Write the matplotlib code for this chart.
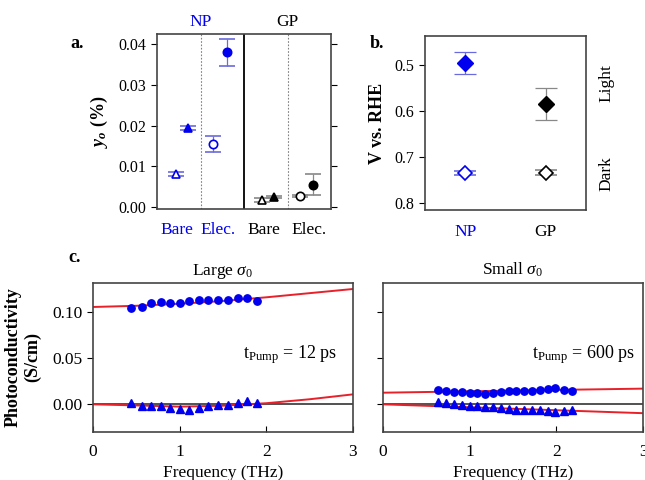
import matplotlib
matplotlib.use('Agg')
from matplotlib import pyplot as plt

plt.rcParams['font.family'] = 'Liberation Serif'
plt.rcParams['mathtext.fontset'] = 'custom'
plt.rcParams['mathtext.rm'] = 'Liberation Serif'
plt.rcParams['mathtext.it'] = 'Liberation Serif:italic'
plt.rcParams['mathtext.bf'] = 'Liberation Serif:bold'
plt.rcParams['mathtext.bfit'] = 'Liberation Serif:bold:italic'
plt.rcParams['font.size'] = 11.5

BLUE = '#0000ee'
BLUE_ERR = '#6a6ae0'
GRAY_ERR = '#888888'
SPINE = '#444444'

# panel a: y_o (%) for NP / GP, bare / electrolyte, open / filled markers
a_x = [0.44, 0.71, 1.29, 1.61, 2.41, 2.69, 3.29, 3.59]
a_y = [0.0081, 0.0194, 0.0155, 0.0380, 0.0017, 0.0024, 0.0027, 0.0055]
a_err_lo = [0.0004, 0.0005, 0.0020, 0.0033, 0.0005, 0.0003, 0.0003, 0.0025]
a_err_hi = [0.0004, 0.0005, 0.0020, 0.0033, 0.0005, 0.0003, 0.0003, 0.0026]
a_marker = ['^', '^', 'o', 'o', '^', '^', 'o', 'o']
a_filled = [False, True, False, True, False, True, False, True]
a_group = ['NP', 'NP', 'NP', 'NP', 'GP', 'GP', 'GP', 'GP']
a_ticks = [0.45, 1.4, 2.45, 3.5]
a_ticklabels = ['Bare', 'Elec.', 'Bare', 'Elec.']

# panel b: onset potential (V vs RHE)
b_x = [0.5, 1.5]
b_labels = ['NP', 'GP']
b_light = [0.496, 0.584]
b_light_err = [0.024, 0.035]
b_dark = [0.735, 0.734]
b_dark_err = [0.004, 0.005]

# panel c: photoconductivity spectra
c1_freq = [0.44, 0.56, 0.67, 0.78, 0.89, 1.00, 1.11, 1.22, 1.33, 1.44, 1.56, 1.67, 1.78, 1.89]
c1_real = [0.1043, 0.1054, 0.1094, 0.1104, 0.1094, 0.1094, 0.1115, 0.1133, 0.1133, 0.1126,
           0.1133, 0.1155, 0.1151, 0.1115]
c1_imag = [0.0018, -0.0018, -0.0018, -0.0018, -0.0036, -0.0054, -0.0058, -0.0036, -0.0014,
           -0.0011, -0.0011, 0.0011, 0.0032, 0.0018]
c1_fit_freq = [0, 0.5, 1, 1.5, 2, 2.5, 3]
c1_fit_real = [0.1055, 0.1068, 0.1090, 0.1120, 0.1160, 0.1205, 0.1250]
c1_fit_imag = [0.0, -0.0012, -0.0025, -0.0015, 0.0012, 0.0055, 0.0108]

c2_freq = [0.64, 0.73, 0.82, 0.91, 1.00, 1.09, 1.18, 1.27, 1.36, 1.45, 1.54, 1.63,
           1.72, 1.81, 1.90, 1.99, 2.09, 2.18]
c2_real = [0.0158, 0.0147, 0.0137, 0.0129, 0.0122, 0.0119, 0.0115, 0.0119, 0.0129, 0.0140,
           0.0140, 0.0140, 0.0144, 0.0155, 0.0169, 0.0173, 0.0155, 0.0147]
c2_imag = [0.0025, 0.0011, 0.0, -0.0007, -0.0014, -0.0022, -0.0029, -0.0032, -0.0040, -0.0050,
           -0.0061, -0.0065, -0.0065, -0.0061, -0.0068, -0.0079, -0.0072, -0.0065]
c2_fit_freq = [0, 1, 2, 3]
c2_fit_real = [0.0126, 0.0141, 0.0156, 0.0170]
c2_fit_imag = [0.0, -0.0032, -0.0064, -0.0096]

fig = plt.figure(figsize=(6.45, 4.8), dpi=100)

def style_spines(ax):
    for s in ax.spines.values():
        s.set_color(SPINE)
        s.set_linewidth(1.2)

# ---- panel a ----
ax_a = fig.add_axes([157 / 645, 1 - 209 / 480, 174 / 645, 175 / 480])
for i in range(len(a_x)):
    col = BLUE if a_group[i] == 'NP' else 'black'
    ecol = BLUE_ERR if a_group[i] == 'NP' else GRAY_ERR
    ax_a.errorbar(a_x[i], a_y[i], yerr=[[a_err_lo[i]], [a_err_hi[i]]], fmt=a_marker[i],
                  color=ecol, mfc=col if a_filled[i] else 'white', mec=col, mew=1.2,
                  ms=6, capsize=5.5, elinewidth=0.9, capthick=0.9)
ax_a.axvline(2, color='black', lw=1.3)
ax_a.axvline(1, color='gray', lw=0.8, ls=(0, (1.5, 1.5)))
ax_a.axvline(3, color='gray', lw=0.8, ls=(0, (1.5, 1.5)))
ax_a.set_xlim(0, 4)
ax_a.set_ylim(-0.0005, 0.0425)
ax_a.set_yticks([0, 0.01, 0.02, 0.03, 0.04])
ax_a.set_yticklabels(['0.00', '0.01', '0.02', '0.03', '0.04'])
ax_a.tick_params(axis='y', direction='out', right=True, length=4)
ax_a.set_xticks(a_ticks)
ax_a.set_xticklabels(a_ticklabels, fontsize=12.5)
ax_a.tick_params(axis='x', length=0, pad=9)
for lbl, c in zip(ax_a.get_xticklabels(), [BLUE, BLUE, 'black', 'black']):
    lbl.set_color(c)
ax_a.text(1, 1.02, 'NP', color=BLUE, fontsize=12.5, ha='center', va='bottom',
          transform=ax_a.get_xaxis_transform())
ax_a.text(3, 1.02, 'GP', color='black', fontsize=12.5, ha='center', va='bottom',
          transform=ax_a.get_xaxis_transform())
ax_a.set_ylabel(r'$\mathbfit{y_o}$ (%)', fontweight='bold', fontsize=13, labelpad=6)
style_spines(ax_a)
fig.text(70 / 645, 1 - 43 / 480, 'a.', fontweight='bold', fontsize=13, ha='left', va='center')

# ---- panel b ----
ax_b = fig.add_axes([425 / 645, 1 - 210 / 480, 161 / 645, 174 / 480])
ax_b.errorbar(b_x[0], b_light[0], yerr=b_light_err[0], fmt='D', color=BLUE_ERR, mfc=BLUE,
              mec=BLUE, ms=8, capsize=8, elinewidth=0.9, capthick=0.9)
ax_b.errorbar(b_x[1], b_light[1], yerr=b_light_err[1], fmt='D', color=GRAY_ERR, mfc='black',
              mec='black', ms=8, capsize=8, elinewidth=0.9, capthick=0.9)
ax_b.errorbar(b_x[0], b_dark[0], yerr=b_dark_err[0], fmt='D', color=BLUE_ERR, mfc='white',
              mec=BLUE, mew=1.2, ms=7.5, capsize=8, elinewidth=0.9, capthick=0.9)
ax_b.errorbar(b_x[1], b_dark[1], yerr=b_dark_err[1], fmt='D', color=GRAY_ERR, mfc='white',
              mec='black', mew=1.2, ms=7.5, capsize=8, elinewidth=0.9, capthick=0.9)
ax_b.set_xlim(0, 2)
ax_b.set_ylim(0.815, 0.437)
ax_b.set_yticks([0.5, 0.6, 0.7, 0.8])
ax_b.tick_params(axis='y', direction='out', length=4)
ax_b.set_xticks(b_x)
ax_b.set_xticklabels(b_labels, fontsize=12.5)
ax_b.tick_params(axis='x', length=0, pad=10)
ax_b.get_xticklabels()[0].set_color(BLUE)
ax_b.set_ylabel('V vs. RHE', fontweight='bold', fontsize=13, labelpad=6)
ax_b.text(1.13, 0.73, 'Light', rotation=90, ha='center', va='center', fontsize=12.5,
          transform=ax_b.transAxes)
ax_b.text(1.13, 0.21, 'Dark', rotation=90, ha='center', va='center', fontsize=12.5,
          transform=ax_b.transAxes)
style_spines(ax_b)
fig.text(370 / 645, 1 - 43 / 480, 'b.', fontweight='bold', fontsize=13, ha='left', va='center')

# ---- panel c ----
ax_c1 = fig.add_axes([93 / 645, 1 - 432 / 480, 260 / 645, 149 / 480])
ax_c2 = fig.add_axes([383 / 645, 1 - 432 / 480, 260 / 645, 149 / 480])
panels = [(ax_c1, c1_freq, c1_real, c1_imag, c1_fit_freq, c1_fit_real, c1_fit_imag,
           r'Large $\sigma_0$', r'$\mathrm{t_{Pump}}$ = 12 ps', 0.94),
          (ax_c2, c2_freq, c2_real, c2_imag, c2_fit_freq, c2_fit_real, c2_fit_imag,
           r'Small $\sigma_0$', r'$\mathrm{t_{Pump}}$ = 600 ps', 0.97)]
for ax, f, re, im, ff, fre, fim, title, note, note_x in panels:
    ax.axhline(0, color='#333333', lw=1.2, zorder=1)
    ax.plot(ff, fre, color='#e8202a', lw=1.4, zorder=2)
    ax.plot(ff, fim, color='#e8202a', lw=1.4, zorder=2)
    ax.plot(f, re, 'o', color=BLUE, ms=5.3, zorder=3)
    ax.plot(f, im, '^', color=BLUE, ms=5.8, zorder=3)
    ax.set_xlim(0, 3)
    ax.set_ylim(-0.03, 0.1315)
    ax.set_xticks([0, 1, 2, 3])
    ax.set_yticks([0, 0.05, 0.10])
    ax.tick_params(axis='x', direction='in', length=4, labelsize=12.5, pad=9)
    ax.tick_params(axis='y', direction='out', length=4, labelsize=12.5)
    ax.set_xlabel('Frequency (THz)', fontsize=12.5, labelpad=3)
    ax.set_title(title, fontsize=12.5, pad=6)
    ax.text(note_x, 0.52, note, ha='right', va='center', fontsize=13, transform=ax.transAxes)
    style_spines(ax)
ax_c1.set_yticklabels(['0.00', '0.05', '0.10'])
ax_c2.set_yticklabels([])
ax_c1.set_ylabel('Photoconductivity\n(S/cm)', fontweight='bold', fontsize=13, labelpad=8)
fig.text(68 / 645, 1 - 258 / 480, 'c.', fontweight='bold', fontsize=13, ha='left', va='center')

fig.savefig('out.png', dpi=100)
